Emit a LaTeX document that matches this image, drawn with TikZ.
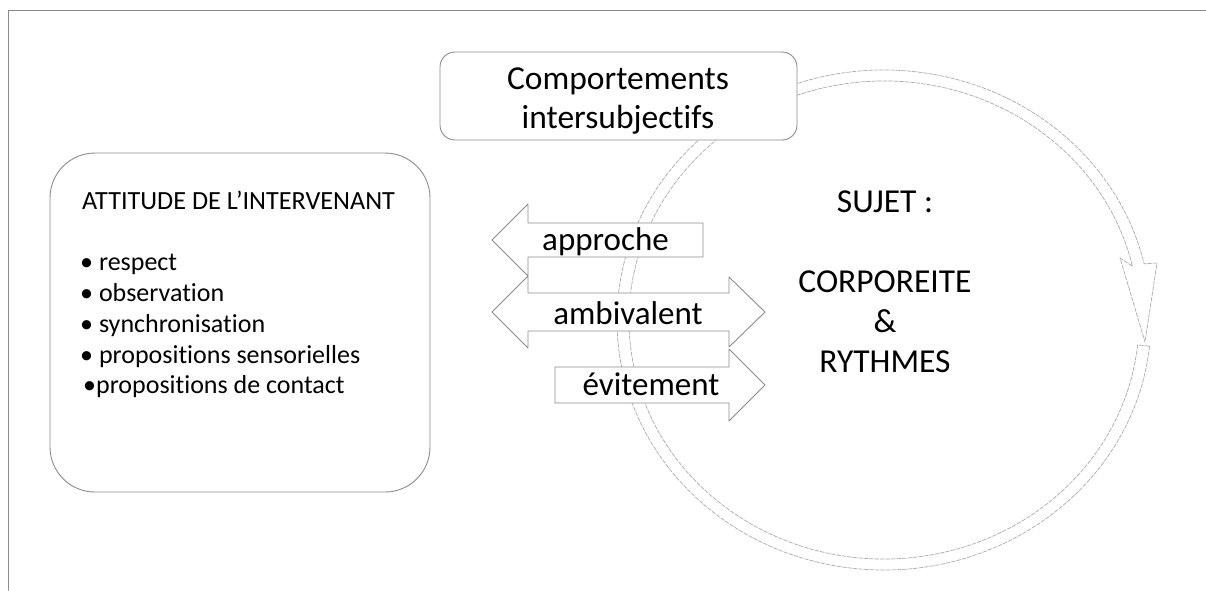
\documentclass[tikz,border=0pt]{standalone}
\usepackage{fontspec}
\setmainfont{Carlito}[Ligatures=NoCommon]
\definecolor{boxgray}{HTML}{8C8C8C}
\definecolor{bandgray}{HTML}{ABABAB}

\begin{document}
\begin{tikzpicture}
	[line cap=round,line join=round,x=1pt,y=1pt,
	 frame/.style={draw=boxgray,line width=0.9pt,fill=white},
	 band/.style={draw=bandgray,line width=0.7pt,dash pattern=on 4pt off 1.5pt,fill=white},
	 arrowtext/.style={inner sep=0pt,font=\fontsize{33}{40}\selectfont}]
	\useasboundingbox (0,0) rectangle (1206,-590);
	\draw [boxgray,line width=1pt] (8,-590) -- (8,-10) -- (1206,-10);
	\coordinate (C) at (884,-320);
	\draw [band] ([shift={(-6:267 and 250)}]C) arc[start angle=-6,end angle=-347,x radius=267,y radius=250]
		-- (1157,-263) -- (1145,-342) -- (1120,-258)
		-- ([shift={(-347:255 and 239)}]C) arc[start angle=-347,end angle=-6,x radius=255,y radius=239] -- cycle;
	\node [frame,rounded corners=15pt,minimum width=357pt,minimum height=88pt] (comport) at (618.5,-96) {};
	\node [inner sep=0pt,align=center,font=\fontsize{33.5}{39}\selectfont] (comporttexte) at (618,-101) {Comportements\\intersubjectifs};
	\node [frame,rounded corners=45pt,minimum width=380pt,minimum height=339pt] (attitude) at (240,-322.5) {};
	\node [inner sep=0pt,font=\fontsize{26.2}{30}\selectfont] (titre) at (238.5,-200) {ATTITUDE DE L’INTERVENANT};
	\node [anchor=north west,inner sep=0pt,align=left,font=\fontsize{26}{30.8}\selectfont] (liste) at (80,-254)
		{• respect\\• observation\\• synchronisation\\• propositions sensorielles\\\hspace{3pt}•propositions de contact};
	\draw [frame] (492,-240) -- (528,-204) -- (528,-223) -- (703,-223) -- (703,-257) -- (528,-257) -- (528,-276) -- cycle;
	\node [arrowtext] (approche) at (605.5,-242) {approche};
	\draw [frame] (492,-312) -- (528,-276) -- (528,-293) -- (729,-293) -- (729,-277) -- (765,-312)
		-- (729,-347) -- (729,-331) -- (528,-331) -- (528,-348) -- cycle;
	\node [arrowtext] (ambivalent) at (628,-313) {ambivalent};
	\draw [frame] (555,-367) -- (729,-367) -- (729,-349) -- (765,-385) -- (729,-421) -- (729,-403) -- (555,-403) -- cycle;
	\node [arrowtext] (evitement) at (651,-384) {évitement};
	\node [inner sep=0pt,font=\fontsize{33.5}{40}\selectfont] (sujet) at (885,-202) {SUJET :};
	\node [inner sep=0pt,align=center,font=\fontsize{33.5}{40}\selectfont] (corps) at (885,-322) {CORPOREITE\\\&\\RYTHMES};
\end{tikzpicture}
\end{document}
